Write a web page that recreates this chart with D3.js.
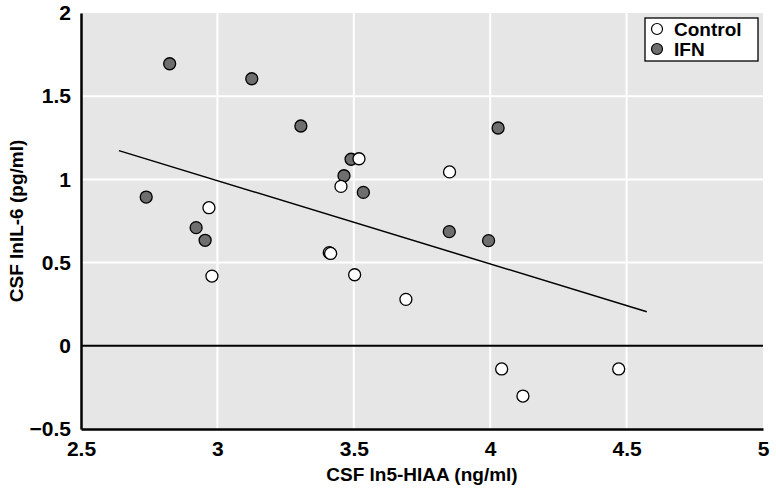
<!DOCTYPE html>
<html lang="en">
<head>
<meta charset="utf-8">
<title>CSF lnIL-6 vs ln5-HIAA</title>
<script src="https://cdn.jsdelivr.net/npm/d3@7"></script>
<style>
  body { margin: 0; background: #fff; }
  text { font-family: "Liberation Sans", Arial, sans-serif; font-weight: bold; }
</style>
</head>
<body>
<div id="chart"></div>
<script>
// data
var xTicks = [2.5, 3, 3.5, 4, 4.5, 5];
var yTicks = [-0.5, 0, 0.5, 1, 1.5, 2];

var controlX = [3.519, 3.453, 2.969, 3.410, 3.415, 3.503, 2.980, 3.691, 3.851, 4.042, 4.120, 4.471];
var controlY = [1.124, 0.958, 0.830, 0.560, 0.555, 0.427, 0.419, 0.279, 1.045, -0.139, -0.302, -0.139];

var ifnX = [2.825, 3.126, 3.306, 3.490, 3.464, 3.535, 2.739, 2.922, 2.955, 3.850, 3.994, 4.029];
var ifnY = [1.695, 1.605, 1.321, 1.121, 1.022, 0.922, 0.894, 0.710, 0.634, 0.686, 0.632, 1.309];

var fitX = [2.639, 4.574];
var fitY = [1.173, 0.205];

var w = 776, h = 492;
var padL = 81, padR = 763, padT = 13, padB = 429;

var svg = d3.select("#chart").append("svg")
  .attr("width", w)
  .attr("height", h);

var x = d3.scaleLinear().domain([2.5, 5]).range([padL, padR]);
var y = d3.scaleLinear().domain([-0.5, 2]).range([padB, padT]);

// plot background
svg.append("rect")
  .attr("x", padL).attr("y", padT)
  .attr("width", padR - padL).attr("height", padB - padT)
  .attr("fill", "#e6e6e6");

// white grid
svg.append("g").selectAll("line")
  .data(yTicks.filter(d => d > -0.5 && d < 2 && d != 0))
  .enter().append("line")
  .attr("x1", padL).attr("x2", padR)
  .attr("y1", d => y(d)).attr("y2", d => y(d))
  .attr("stroke", "#fff").attr("stroke-width", 2);

svg.append("g").selectAll("line")
  .data(xTicks.filter(d => d > 2.5 && d < 5))
  .enter().append("line")
  .attr("y1", padT).attr("y2", padB)
  .attr("x1", d => x(d)).attr("x2", d => x(d))
  .attr("stroke", "#fff").attr("stroke-width", 2);

// zero line
svg.append("line")
  .attr("x1", padL).attr("x2", padR)
  .attr("y1", y(0)).attr("y2", y(0))
  .attr("stroke", "#000").attr("stroke-width", 2);

// axes
var xAxis = d3.axisBottom(x).tickValues(xTicks).tickSize(0).tickPadding(12).tickFormat(d3.format("~g"));
var gx = svg.append("g")
  .attr("transform", "translate(0," + padB + ")")
  .call(xAxis);
gx.select(".domain").attr("stroke", "#000").attr("stroke-width", 2.5);
gx.selectAll("text").attr("font-size", 21).attr("fill", "#000")
  .style("font-family", "Liberation Sans, Arial, sans-serif").style("font-weight", "bold");

var yAxis = d3.axisLeft(y).tickValues(yTicks).tickSize(0).tickPadding(10).tickFormat(d3.format("~g"));
var gy = svg.append("g")
  .attr("transform", "translate(" + padL + ",0)")
  .call(yAxis);
gy.select(".domain").attr("stroke", "#000").attr("stroke-width", 2.5);
gy.selectAll("text").attr("font-size", 21).attr("fill", "#000")
  .style("font-family", "Liberation Sans, Arial, sans-serif").style("font-weight", "bold");

// axis titles
svg.append("text")
  .attr("x", (padL + padR) / 2).attr("y", 481)
  .attr("text-anchor", "middle").attr("font-size", 19)
  .text("CSF ln5-HIAA (ng/ml)");

svg.append("text")
  .attr("transform", "translate(23," + ((padT + padB) / 2) + ") rotate(-90)")
  .attr("text-anchor", "middle").attr("font-size", 19)
  .text("CSF lnIL-6 (pg/ml)");

// fit line
svg.append("path")
  .datum(d3.zip(fitX, fitY))
  .attr("d", d3.line().x(d => x(d[0])).y(d => y(d[1])))
  .attr("fill", "none").attr("stroke", "#000").attr("stroke-width", 1.5);

// points
svg.append("g").selectAll("circle")
  .data(d3.zip(ifnX, ifnY))
  .enter().append("circle")
  .attr("cx", d => x(d[0])).attr("cy", d => y(d[1])).attr("r", 6)
  .attr("fill", "#6e6e6e").attr("stroke", "#000").attr("stroke-width", 1.3);

svg.append("g").selectAll("circle")
  .data(d3.zip(controlX, controlY))
  .enter().append("circle")
  .attr("cx", d => x(d[0])).attr("cy", d => y(d[1])).attr("r", 6)
  .attr("fill", "#fff").attr("stroke", "#000").attr("stroke-width", 1.3);

// legend
var legend = svg.append("g");
legend.append("rect")
  .attr("x", 645).attr("y", 18).attr("width", 113).attr("height", 43)
  .attr("fill", "#fff").attr("stroke", "#000").attr("stroke-width", 1.3);

var legendItems = [["Control", "#fff"], ["IFN", "#6e6e6e"]];
legend.selectAll("g.item")
  .data(legendItems)
  .enter().append("g")
  .attr("class", "item")
  .attr("transform", (d, i) => "translate(657," + (29 + i * 20) + ")")
  .each(function(d) {
    var g = d3.select(this);
    g.append("circle").attr("r", 5.5).attr("fill", d[1])
      .attr("stroke", "#000").attr("stroke-width", 1.2);
    g.append("text").attr("x", 17).attr("y", 6.5)
      .attr("font-size", 19).text(d[0]);
  });
</script>
</body>
</html>
